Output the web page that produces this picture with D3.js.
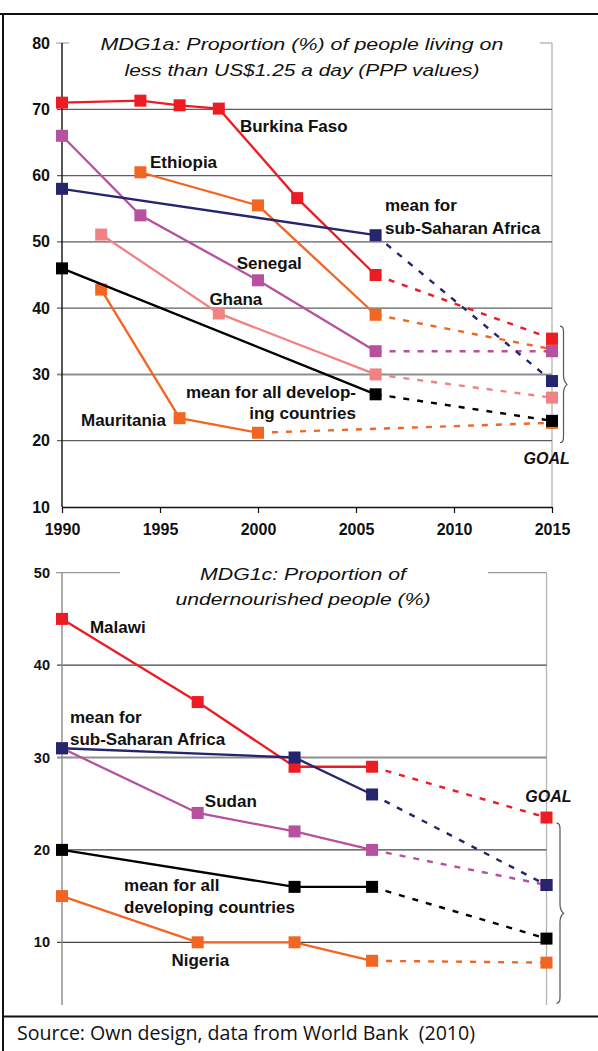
<!DOCTYPE html>
<html>
<head>
<meta charset="utf-8">
<script src="https://cdn.jsdelivr.net/npm/d3@7"></script>
<style>
	body { margin: 0; background: #fff; }
	svg { display: block; }
	.lbl { font-family: "Liberation Sans", Arial, sans-serif; font-weight: bold; font-size: 17px; fill: #111; }
	.ttl { font-family: "Liberation Sans", Arial, sans-serif; font-style: italic; font-size: 16.5px; fill: #111; }
	.goal { font-family: "Liberation Sans", Arial, sans-serif; font-style: italic; font-weight: bold; font-size: 16px; fill: #111; }
	.src { font-family: "Open Sans", sans-serif; font-size: 19.5px; fill: #111; white-space: pre; }
</style>
</head>
<body>
<div id="graphicContainer"></div>
<script>

// ---- MDG1a: people living on less than US$1.25 a day (%) ----
var povBurkina    = [[1990, 71.0], [1994, 71.3], [1996, 70.6], [1998, 70.1], [2002, 56.6], [2006, 45.0]];
var povEthiopia   = [[1994, 60.5], [2000, 55.5], [2006, 39.0]];
var povSenegal    = [[1990, 66.0], [1994, 54.0], [2000, 44.2], [2006, 33.5]];
var povGhana      = [[1992, 51.1], [1998, 39.2], [2006, 30.0]];
var povSSA        = [[1990, 58.0], [2006, 51.0]];
var povDeveloping = [[1990, 46.0], [2006, 27.0]];
var povMauritania = [[1992, 42.8], [1996, 23.4], [2000, 21.2]];
// 2015 goal values, same order as povNames
var povNames = ["Mauritania", "Ethiopia", "Ghana", "Senegal", "Burkina Faso", "sub-Saharan Africa", "developing countries"];
var povGoal  = [22.7, 33.8, 26.5, 33.5, 35.4, 29.0, 23.0];

// ---- MDG1c: undernourished people (%) ----
var nutMalawi     = [[1990, 45.0], [1997, 36.0], [2002, 29.0], [2006, 29.0]];
var nutSudan      = [[1990, 31.0], [1997, 24.0], [2002, 22.0], [2006, 20.0]];
var nutSSA        = [[1990, 31.0], [2002, 30.0], [2006, 26.0]];
var nutDeveloping = [[1990, 20.0], [2002, 16.0], [2006, 16.0]];
var nutNigeria    = [[1990, 15.0], [1997, 10.0], [2002, 10.0], [2006, 8.0]];
var nutNames = ["Nigeria", "Sudan", "Malawi", "sub-Saharan Africa", "developing countries"];
var nutGoal  = [7.8, 16.2, 23.5, 16.2, 10.4];

var goalYear = 2015;
var xTicks = [1990, 1995, 2000, 2005, 2010, 2015];
var yTicksTop = [10, 20, 30, 40, 50, 60, 70, 80];
var yTicksBottom = [10, 20, 30, 40, 50];

// text annotations: [text, year, value, anchor]
var povLabels = [
	["Burkina Faso", 1999.08, 67.5, "start"],
	["Ethiopia", 1994.49, 62.1, "start"],
	["mean for", 2006.48, 55.55, "start"],
	["sub-Saharan Africa", 2006.48, 52.15, "start"],
	["Senegal", 1998.91, 46.76, "start"],
	["Ghana", 1997.52, 41.33, "start"],
	["mean for all develop-", 2005.0, 27.4, "end"],
	["ing countries", 2005.0, 24.13, "end"],
	["Mauritania", 1990.97, 23.12, "start"]
];
var nutLabels = [
	["Malawi", 1991.44, 44.09, "start"],
	["mean for", 1990.41, 34.35, "start"],
	["sub-Saharan Africa", 1990.41, 31.97, "start"],
	["Sudan", 1997.37, 25.29, "start"],
	["mean for all", 1993.2, 16.2, "start"],
	["developing countries", 1993.2, 13.85, "start"],
	["Nigeria", 1995.65, 8.08, "start"]
];

var colors = {
	red: "#ed1c24", orange: "#f26522", purple: "#b5519e",
	pink: "#f08283", navy: "#25256e", black: "#000000"
};

var povSeries = [
	{ pts: povMauritania, color: colors.orange },
	{ pts: povEthiopia, color: colors.orange },
	{ pts: povGhana, color: colors.pink },
	{ pts: povSenegal, color: colors.purple },
	{ pts: povBurkina, color: colors.red },
	{ pts: povSSA, color: colors.navy },
	{ pts: povDeveloping, color: colors.black }
];
povSeries.forEach(function(s, i) { s.name = povNames[i]; s.goal = povGoal[i]; });

var nutSeries = [
	{ pts: nutNigeria, color: colors.orange },
	{ pts: nutSudan, color: colors.purple },
	{ pts: nutMalawi, color: colors.red },
	{ pts: nutSSA, color: colors.navy },
	{ pts: nutDeveloping, color: colors.black }
];
nutSeries.forEach(function(s, i) { s.name = nutNames[i]; s.goal = nutGoal[i]; });

var W = 598, H = 1051;

var svg = d3.select("#graphicContainer").append("svg")
	.attr("width", W)
	.attr("height", H);

// outer frame
svg.append("line").attr("x1", 0).attr("x2", W).attr("y1", 14).attr("y2", 14)
	.attr("stroke", "#111").attr("stroke-width", 2);
svg.append("line").attr("x1", 3).attr("x2", 3).attr("y1", 13).attr("y2", H)
	.attr("stroke", "#111").attr("stroke-width", 2);
svg.append("line").attr("x1", 3).attr("x2", W).attr("y1", 1016.5).attr("y2", 1016.5)
	.attr("stroke", "#111").attr("stroke-width", 2);

svg.append("text")
	.attr("class", "src")
	.attr("x", 17)
	.attr("y", 1040)
	.attr("textLength", 458)
	.attr("lengthAdjust", "spacingAndGlyphs")
	.text("Source: Own design, data from World Bank  (2010)");

function brace(x0, y1, y2, w) {
	var m = (y1 + y2) / 2, h = w * 0.5;
	return "M" + x0 + "," + y1 +
		"C" + (x0 + w * 0.6) + "," + y1 + " " + (x0 + h) + "," + (y1 + 5) + " " + (x0 + h) + "," + (y1 + 12) +
		"L" + (x0 + h) + "," + (m - 9) +
		"C" + (x0 + h) + "," + (m - 3) + " " + (x0 + w) + "," + m + " " + (x0 + w) + "," + m +
		"C" + (x0 + w) + "," + m + " " + (x0 + h) + "," + (m + 3) + " " + (x0 + h) + "," + (m + 9) +
		"L" + (x0 + h) + "," + (y2 - 12) +
		"C" + (x0 + h) + "," + (y2 - 5) + " " + (x0 + w * 0.6) + "," + y2 + " " + x0 + "," + y2;
}

function drawPanel(p) {

	var g = svg.append("g");

	var x = d3.scaleLinear().domain([1990, goalYear]).range(p.xRange);
	var y = d3.scaleLinear().domain(p.yDomain).range(p.yRange);

	var xL = p.xRange[0], xR = p.xRange[1];
	var yTop = y(p.yDomain[1]);

	// frame top + right
	g.append("line").attr("x1", xL - 6).attr("x2", xR).attr("y1", yTop).attr("y2", yTop)
		.attr("stroke", "#9a9a9a").attr("stroke-width", 1.2);
	g.append("line").attr("x1", xR).attr("x2", xR).attr("y1", yTop).attr("y2", p.bottomPx)
		.attr("stroke", "#b4b4b4").attr("stroke-width", 1.3);

	// gridlines
	g.selectAll(".grid")
		.data(p.yTicks.filter(function(v) { return v < p.yDomain[1] && (v > p.yDomain[0] || !p.xAxis); }))
		.enter().append("line")
		.attr("x1", xL - 5).attr("x2", xR)
		.attr("y1", function(d) { return y(d); })
		.attr("y2", function(d) { return y(d); })
		.attr("stroke", function(d) { return d === 30 ? "#8e8e8e" : p.gridColor; })
		.attr("stroke-width", function(d) { return d === 30 ? 2 : 1.2; });

	// white box behind title
	g.append("rect")
		.attr("x", p.titleBox[0]).attr("width", p.titleBox[1] - p.titleBox[0])
		.attr("y", yTop - 12).attr("height", 50)
		.attr("fill", "#fff");

	p.title.forEach(function(t, i) {
		g.append("text")
			.attr("class", "ttl")
			.attr("x", p.titleX)
			.attr("y", p.titleY[i])
			.attr("text-anchor", "middle")
			.attr("textLength", p.titleLen[i])
			.attr("lengthAdjust", "spacingAndGlyphs")
			.text(t);
	});

	// y axis
	var yAxis = d3.axisLeft(y).tickValues(p.yTicks).tickSize(5).tickSizeOuter(0).tickPadding(7);
	var ya = g.append("g").attr("transform", "translate(" + xL + ",0)").call(yAxis);
	ya.select(".domain").remove();
	ya.selectAll(".tick line").attr("stroke", "none");
	ya.selectAll("text")
		.attr("font-family", "Liberation Sans, Arial, sans-serif")
		.attr("font-weight", "bold")
		.attr("font-size", p.tickFont)
		.attr("fill", "#111");
	g.append("line").attr("x1", xL).attr("x2", xL).attr("y1", yTop).attr("y2", p.bottomPx)
		.attr("stroke", p.axisColor).attr("stroke-width", 1.4);

	// x axis (top panel only)
	if (p.xAxis) {
		var xAxis = d3.axisBottom(x).tickValues(xTicks).tickSize(6).tickSizeOuter(0).tickPadding(11).tickFormat(d3.format("d"));
		var xa = g.append("g").attr("transform", "translate(0," + y(p.yDomain[0]) + ")").call(xAxis);
		xa.select(".domain").attr("stroke", "#111").attr("stroke-width", 1.4);
		xa.selectAll(".tick line").attr("stroke", "#111").attr("stroke-width", 1.2);
		xa.selectAll("text")
			.attr("font-family", "Liberation Sans, Arial, sans-serif")
			.attr("font-weight", "bold")
			.attr("font-size", 16)
			.attr("fill", "#111");
	}

	// goal brace + label
	g.append("path")
		.attr("d", brace(xR + p.braceOffset, y(p.brace[0]), y(p.brace[1]), 7))
		.attr("fill", "none")
		.attr("stroke", "#555")
		.attr("stroke-width", 1.2);
	g.append("text")
		.attr("class", "goal")
		.attr("x", x(p.goalLabel[0]))
		.attr("y", y(p.goalLabel[1]))
		.attr("dy", "0.36em")
		.attr("text-anchor", "middle")
		.text("GOAL");

	var line = d3.line()
		.x(function(d) { return x(d[0]); })
		.y(function(d) { return y(d[1]); });

	var ms = 12;

	p.series.forEach(function(s) {
		var last = s.pts[s.pts.length - 1];
		var goalPt = [goalYear, s.goal];

		g.append("path")
			.datum([last, goalPt])
			.attr("d", line)
			.attr("fill", "none")
			.attr("stroke", s.color)
			.attr("stroke-width", 2.4)
			.attr("stroke-dasharray", "6,8");

		g.append("path")
			.datum(s.pts)
			.attr("d", line)
			.attr("fill", "none")
			.attr("stroke", s.color)
			.attr("stroke-width", 2.3);

		g.selectAll(null)
			.data(s.pts.concat([goalPt]))
			.enter().append("rect")
			.attr("x", function(d) { return x(d[0]) - ms / 2; })
			.attr("y", function(d) { return y(d[1]) - ms / 2; })
			.attr("width", ms)
			.attr("height", ms)
			.attr("fill", s.color);
	});

	// series labels
	g.selectAll(".lbl")
		.data(p.labels)
		.enter().append("text")
		.attr("class", "lbl")
		.attr("x", function(d) { return x(d[1]); })
		.attr("y", function(d) { return y(d[2]); })
		.attr("dy", "0.36em")
		.attr("text-anchor", function(d) { return d[3]; })
		.text(function(d) { return d[0]; });
}

drawPanel({
	xRange: [62, 552],
	yDomain: [10, 80],
	yRange: [507, 43],
	bottomPx: 507,
	yTicks: yTicksTop,
	xAxis: true,
	gridColor: "#5e5e5e",
	axisColor: "#111",
	tickFont: 16,
	titleBox: [69, 540],
	title: ["MDG1a: Proportion (%) of people living on", "less than US$1.25 a day (PPP values)"],
	titleX: 302,
	titleY: [49.5, 76],
	titleLen: [403, 355],
	series: povSeries,
	labels: povLabels,
	brace: [37.3, 19.7],
	braceOffset: 8,
	goalLabel: [2014.73, 17.35]
});

drawPanel({
	xRange: [62, 546.5],
	yDomain: [10, 50],
	yRange: [942.3, 572.7],
	bottomPx: 1005,
	yTicks: yTicksBottom,
	xAxis: false,
	gridColor: "#444",
	axisColor: "#8a8a8a",
	tickFont: 14.5,
	titleBox: [120, 488],
	title: ["MDG1c: Proportion of", "undernourished people (%)"],
	titleX: 303,
	titleY: [579.5, 605],
	titleLen: [206, 255],
	series: nutSeries,
	labels: nutLabels,
	brace: [22.9, 3.4],
	braceOffset: 10,
	goalLabel: [2015.1, 25.85]
});

</script>
</body>
</html>
